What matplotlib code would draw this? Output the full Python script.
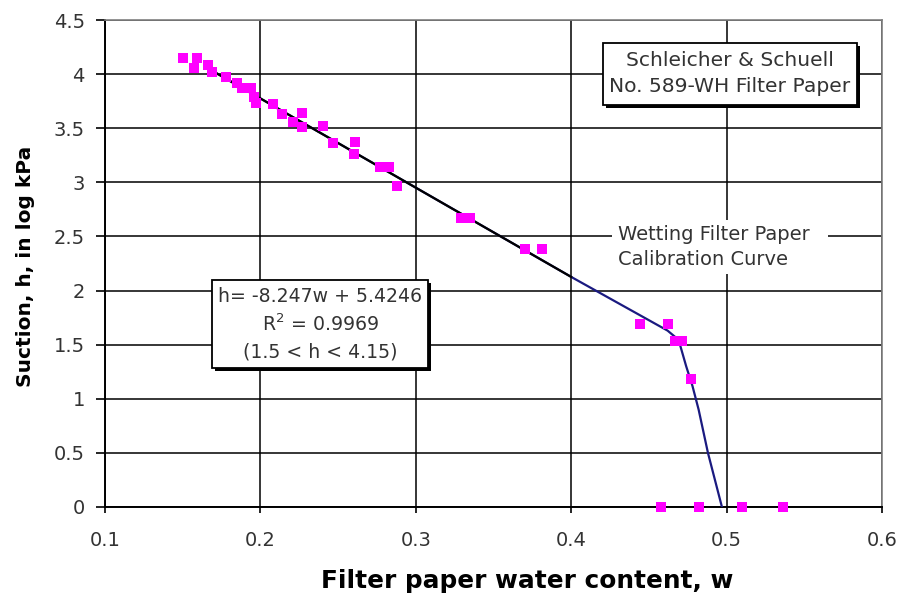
import matplotlib
matplotlib.use("Agg")
import matplotlib.pyplot as plt
from matplotlib.patches import Rectangle

plt.rcParams['font.family'] = ['DejaVu Sans']
plt.rcParams['mathtext.fontset'] = 'dejavusans'

# Measured points (filter paper water content w, suction h in log kPa)
w_data = [0.150, 0.159, 0.157, 0.166, 0.169, 0.178, 0.185, 0.188, 0.194, 0.196,
          0.197, 0.208, 0.214, 0.227, 0.221, 0.227, 0.240, 0.247, 0.261, 0.260,
          0.277, 0.283, 0.288, 0.329, 0.335, 0.370, 0.381, 0.444, 0.462, 0.467,
          0.471, 0.477, 0.458, 0.482, 0.510, 0.536]
h_data = [4.15, 4.15, 4.06, 4.08, 4.02, 3.97, 3.92, 3.87, 3.87, 3.79,
          3.73, 3.72, 3.63, 3.64, 3.56, 3.51, 3.52, 3.36, 3.37, 3.26,
          3.14, 3.14, 2.97, 2.67, 2.67, 2.38, 2.38, 1.69, 1.69, 1.53,
          1.53, 1.18, 0.0, 0.0, 0.0, 0.0]

# Linear fit segment endpoints (h = -8.247w + 5.4246)
fit_w = [0.172, 0.400]
fit_h = [4.006, 2.126]

# Wetting calibration curve
curve_w = [0.172, 0.400, 0.462, 0.467, 0.470, 0.474, 0.478, 0.482, 0.488, 0.497]
curve_h = [4.006, 2.126, 1.63, 1.57, 1.50, 1.30, 1.12, 0.90, 0.50, 0.0]

x_ticks = [0.1, 0.2, 0.3, 0.4, 0.5, 0.6]
y_ticks = [0, 0.5, 1, 1.5, 2, 2.5, 3, 3.5, 4, 4.5]
x_labels = ['0.1', '0.2', '0.3', '0.4', '0.5', '0.6']
y_labels = ['0', '0.5', '1', '1.5', '2', '2.5', '3', '3.5', '4', '4.5']

TXT = '#333333'

fig = plt.figure(figsize=(9.05, 5.96), dpi=100)
ax = fig.add_axes([105/905, 1 - 507/596, (882 - 105)/905, (507 - 20)/596])

ax.set_xlim(0.1, 0.6)
ax.set_ylim(0, 4.5)
ax.set_xticks(x_ticks)
ax.set_xticklabels(x_labels)
ax.set_yticks(y_ticks)
ax.set_yticklabels(y_labels)
ax.grid(True, color='black', linewidth=1.1)
ax.set_axisbelow(True)

for s in ['top', 'right']:
    ax.spines[s].set_color('#808080')
    ax.spines[s].set_linewidth(1.2)
for s in ['left', 'bottom']:
    ax.spines[s].set_color('black')
    ax.spines[s].set_linewidth(1.4)

ax.tick_params(axis='x', direction='out', length=4.5, width=1.2, color='black',
               labelsize=14, labelcolor=TXT, pad=13)
ax.tick_params(axis='y', direction='out', length=6.5, width=1.2, color='black',
               labelsize=14, labelcolor=TXT, pad=8)

ax.plot(curve_w, curve_h, color='#1a1a80', linewidth=1.6, zorder=3)
ax.plot(fit_w, fit_h, color='black', linewidth=1.6, zorder=4)
ax.plot(w_data, h_data, linestyle='none', marker='s', markersize=7.5,
        color='#ff00ff', markeredgewidth=0, zorder=5, clip_on=False)

ax.set_xlabel('Filter paper water content, w', fontsize=17.8, fontweight='bold',
              va='center')
ax.xaxis.set_label_coords((527 - 105) / 777, (507 - 581) / 487)
ax.set_ylabel('Suction, h, in log kPa', fontsize=14.5, fontweight='bold',
              va='center')
ax.yaxis.set_label_coords((25 - 105) / 777, (507 - 266) / 487)


def framed_box(x0, x1, y0, y1):
    # shadow offset of a few pixels, converted to data units
    dx = 3 * 0.5 / 777
    dy = 3 * 4.5 / 487
    ax.add_patch(Rectangle((x0 + dx, y0 - dy), x1 - x0, y1 - y0,
                           facecolor='black', edgecolor='none', zorder=6))
    ax.add_patch(Rectangle((x0, y0), x1 - x0, y1 - y0, facecolor='white',
                           edgecolor='black', linewidth=1.3, zorder=6.5))


framed_box(0.4205, 0.5839, 3.715, 4.288)
ax.text(0.5022, 4.005, 'Schleicher & Schuell\nNo. 589-WH Filter Paper',
        fontsize=14.6, color=TXT, ha='center', va='center', linespacing=1.45,
        zorder=7)

framed_box(0.1689, 0.3079, 1.285, 2.098)
ax.text(0.2384, 1.69, 'h= -8.247w + 5.4246\nR$^2$ = 0.9969\n(1.5 < h < 4.15)',
        fontsize=13.6, color=TXT, ha='center', va='center', linespacing=1.45,
        zorder=7)

ax.add_patch(Rectangle((0.4265, 2.15), 0.1385, 0.50, facecolor='white',
                       edgecolor='none', zorder=2.5))
ax.text(0.430, 2.40, 'Wetting Filter Paper\nCalibration Curve',
        fontsize=14, color=TXT, ha='left', va='center', linespacing=1.4,
        multialignment='left', zorder=7)

fig.savefig('out.png', dpi=100)
